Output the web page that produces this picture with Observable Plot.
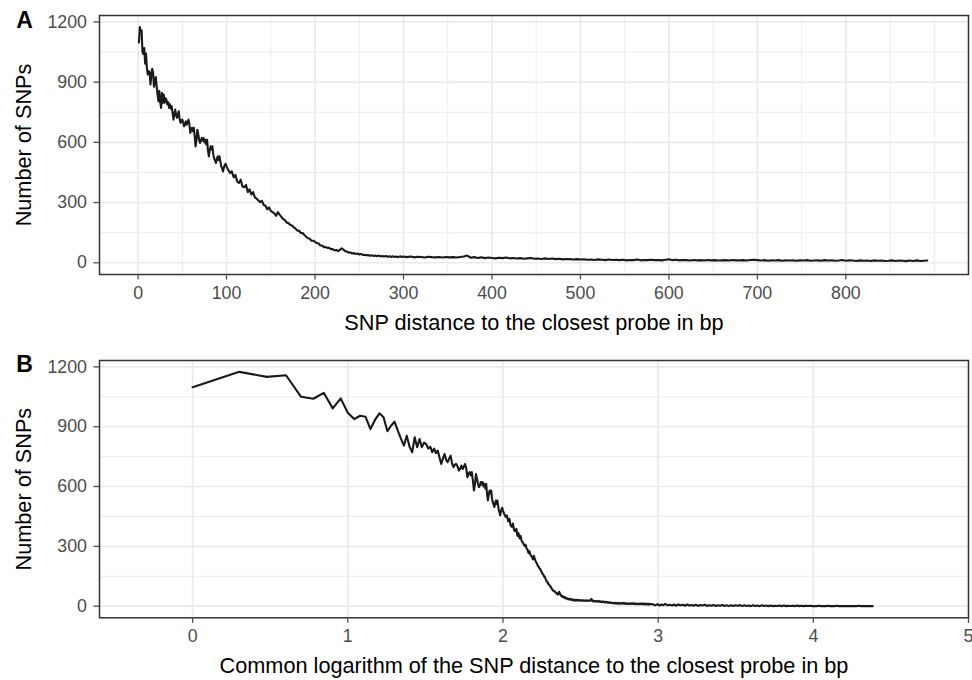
<!DOCTYPE html>
<html><head><meta charset="utf-8">
<script src="https://cdn.jsdelivr.net/npm/d3@7"></script>
<script src="https://cdn.jsdelivr.net/npm/@observablehq/plot@0.6"></script>
<style>
html,body{margin:0;padding:0;background:#fff;overflow:hidden}
#chart svg{display:block}
</style></head><body><div id="chart"></div>
<script>
// ---- tick labels / titles ----
const tagA = "A", tagB = "B";
const yTitle = "Number of SNPs";
const xTitleA = "SNP distance to the closest probe in bp";
const xTitleB = "Common logarithm of the SNP distance to the closest probe in bp";
const yTicks = [0, 300, 600, 900, 1200];
const yMinor = [150, 450, 750, 1050];
const xTicksA = [0, 100, 200, 300, 400, 500, 600, 700, 800];
const xMinorA = [50, 150, 250, 350, 450, 550, 650, 750, 850, 900];
const xTicksB = [0, 1, 2, 3, 4, 5];

// ---- data: SNP distance (bp) and number of SNPs ----
const dist1 = [1,2,3,4,5,6,7,8,9,10,11,12,13,14,15,16,17,18,19,20,21,22,23,24,25,26,27,28,29,30,31,32,33,34,35,36,37,38,39,40,41,42,43,44,45,46,47,48,49,50,51,52,53,54,55,56,57,58,59,60,61,62,63,64,65,66,67,68,69,70,71,72,73,74,75,76,77,78,79,80,81,82,83,84,85,86,87,88,89,90,91,92,93,94,95,96,97,98,99,100];
const count1 = [1098,1175,1150,1158,1050,1040,1070,992,1042,970,
 938,955,950,888,935,967,947,877,905,925,
 880,840,805,855,800,772,847,797,838,797,
 820,813,790,800,772,790,768,780,745,713,
 740,763,735,722,740,755,715,697,710,713,
 700,680,690,705,688,700,713,690,647,665,
 672,655,672,630,580,610,663,640,615,597,
 605,622,610,622,600,613,590,613,560,530,
 560,580,565,580,540,520,510,497,515,530,
 512,530,505,480,470,455,475,488,493,478];
const dist2 = [102,104,106,108,110,112,114,116,118,120,122,124,126,128,130,132,134,136,138,140,142,144,146,148,150,152,154,156,158,160,162,164,166,168,170,172,174,176,178,180,182,184,186,188,190,192,194,196,198,200,202,204,206,208,210,212,214,216,218,220,222,224,226,228,230,232,234,236,238,240,242,244,246,248,250,252,254,256,258,260,262,264,266,268,270,272,274,276,278,280,282,284,286,288,290,292,294,296,298,300];
const count2 = [462,448,455,426,438,405,397,414,380,376,
 388,352,366,340,352,326,320,310,302,308,
 288,284,266,276,258,252,246,234,252,240,
 228,218,212,200,198,188,186,176,170,160,
 160,148,148,138,130,122,120,110,110,104,
 98,96,86,86,78,78,74,74,68,68,
 62,64,58,64,72,66,58,56,50,52,
 46,48,44,46,41,44,39,40,37,39,
 35,37,34,36,33,36,32,34,31,34,
 30,33,29,32,29,31,28,32,29,31];
const dist3 = [304,308,312,316,320,324,328,332,336,340,344,348,352,356,360,364,368,372,376,380,384,388,392,396,400,404,408,412,416,420,424,428,432,436,440,444,448,452,456,460,464,468,472,476,480,484,488,492,496,500,504,508,512,516,520,524,528,532,536,540,544,548,552,556,560,564,568,572,576,580,584,588,592,596,600,604,608,612,616,620,624,628,632,636,640,644,648,652,656,660,664,668,672,676,680,684,688,692,696,700,704,708,712,716,720,724,728,732,736,740,744,748,752,756,760,764,768,772,776,780,784,788,792,796,800,804,808,812,816,820,824,828,832,836,840,844,848,852,856,860,864,868,872,876,880,884,888,892];
const count3 = [28,31,27,30,29,26,30,28,27,29,
 26,29,27,28,26,29,31,36,25,28,
 24,27,23,26,24,22,25,23,26,22,
 24,21,23,20,22,24,20,21,19,22,
 19,21,18,20,17,19,18,16,18,16,
 17,15,16,14,17,15,13,16,14,15,
 13,15,12,14,13,16,12,14,13,15,
 13,14,12,15,17,13,15,12,14,13,
 11,14,12,13,11,14,12,13,11,12,
 13,11,14,12,12,13,11,14,15,13,
 11,13,10,12,11,13,10,12,11,12,
 10,12,11,13,10,11,12,10,13,11,
 12,10,11,14,10,12,11,9,12,10,
 11,9,12,10,11,9,10,12,9,11,
 10,8,11,9,12,9,10,11];
// long tail, only shown on the log panel
const distTail = [930,960,990,1020,1050,1080,1110,1150,1190,1230,
 1270,1310,1350,1390,1440,1490,1540,1590,1640,1690,
 1750,1810,1870,1930,2000,2060,2130,2200,2270,2350,
 2430,2510,2590,2680,2770,2860,2950,3050,3150,3260,
 3370,3480,3590,3710,3830,3960,4090,4230,4370,4510,
 4660,4820,4980,5140,5310,5490,5670,5860,6050,6250,
 6460,6670,6890,7120,7360,7600,7850,8110,8380,8660,
 8950,9250,9550,9870,10200,10540,10890,11250,11620,12000,
 12400,12810,13240,13680,14130,14600,15080,15580,16100,16630,
 17180,17750,18340,18950,19580,20230,20900,21590,22310,23050,
 23810,24100];
const countTail = [9,4,10,3,8,5,11,4,7,3,
 8,2,9,4,7,2,8,3,6,2,
 7,1,6,3,7,1,5,2,6,1,
 5,2,6,1,4,0,5,1,4,2,
 5,0,4,1,3,0,4,1,3,0,
 4,1,3,0,3,0,2,1,3,0,
 3,0,2,1,2,0,3,0,2,0,
 2,1,2,0,1,0,2,0,1,0,
 2,0,1,0,2,0,1,0,1,0,
 1,0,1,0,2,0,1,0,1,0,
 1,0];

const rowsA = [];
[[dist1,count1],[dist2,count2],[dist3,count3]].forEach(([ds,cs]) => ds.forEach((d,i) => rowsA.push({dist:d, count:cs[i]})));
const rowsB = rowsA.concat(distTail.map((d,i) => ({dist:d, count:countTail[i]})));

const FONT = "'Liberation Sans', Arial, Helvetica, sans-serif";
const GRID = "#ebebeb";
const TICKC = "#4d4d4d";
const fmt = d => String(d);

function panel({rows, xAcc, xDomain, xTicks, xMinor, height, mt, mb, tag, tagDy, xTitle, titleDy}) {
  const marks = [];
  if (xMinor) marks.push(Plot.ruleX(xMinor, {stroke: GRID, strokeWidth: 0.9}));
  marks.push(Plot.ruleY(yMinor, {stroke: GRID, strokeWidth: 0.9}));
  marks.push(Plot.ruleX(xTicks, {stroke: GRID, strokeWidth: 1.7}));
  marks.push(Plot.ruleY(yTicks, {stroke: GRID, strokeWidth: 1.7}));
  marks.push(Plot.lineY(rows, {x: xAcc, y: "count", stroke: "#1a1a1a", strokeWidth: 2.1, strokeLinejoin: "round"}));
  marks.push(Plot.frame({stroke: "#333333", strokeWidth: 1.5}));
  marks.push(Plot.axisX(xTicks, {tickSize: 5.5, tickPadding: 6.5, fontSize: 17.8, color: TICKC, strokeWidth: 1.3, tickFormat: fmt, label: null}));
  marks.push(Plot.axisY(yTicks, {tickSize: 5.5, tickPadding: 7, fontSize: 17.8, color: TICKC, strokeWidth: 1.3, tickFormat: fmt, label: null}));
  marks.push(Plot.text([xTitle], {text: d => d, frameAnchor: "bottom", lineAnchor: "bottom", textAnchor: "middle", dy: titleDy, fontSize: 21.7, fill: "#000"}));
  marks.push(Plot.text([yTitle], {text: d => d, frameAnchor: "left", textAnchor: "middle", lineAnchor: "middle", dx: -75, rotate: -90, fontSize: 21.7, fill: "#000"}));
  marks.push(Plot.text([tag], {text: d => d, frameAnchor: "top-left", textAnchor: "middle", lineAnchor: "middle", dx: -75, dy: tagDy, fontSize: 23, fontWeight: "bold", fill: "#000"}));
  return Plot.plot({
    width: 972, height, marginTop: mt, marginBottom: mb, marginLeft: 99, marginRight: 4,
    style: {fontFamily: FONT, background: "#fff", overflow: "visible"},
    x: {domain: xDomain},
    y: {domain: [-58.5, 1232]},
    marks
  });
}

const el = document.getElementById("chart");
el.append(panel({rows: rowsA, xAcc: "dist", xDomain: [-43.6, 938.6], xTicks: xTicksA, xMinor: xMinorA,
  height: 340, mt: 15, mb: 66, tag: tagA, tagDy: 5.5, xTitle: xTitleA, titleDy: 55.5}));
el.append(panel({rows: rowsB, xAcc: d => Math.log10(d.dist), xDomain: [-0.6, 5.0], xTicks: xTicksB, xMinor: null,
  height: 340, mt: 20, mb: 62.7, tag: tagB, tagDy: 4, xTitle: xTitleB, titleDy: 55}));
</script></body></html>
